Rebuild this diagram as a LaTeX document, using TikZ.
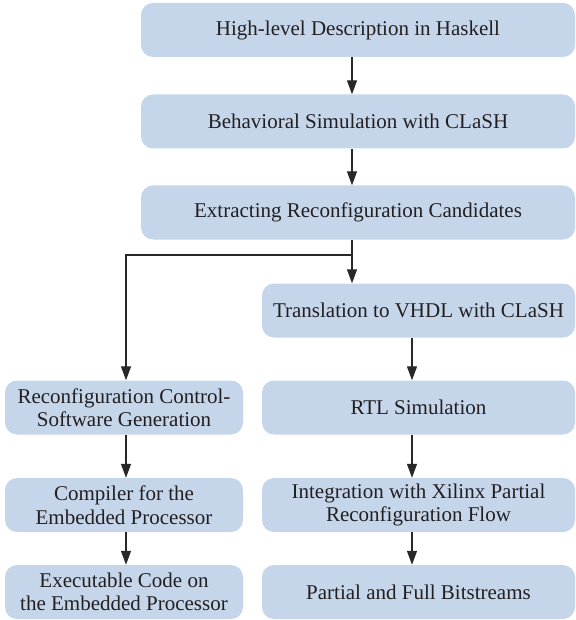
\documentclass[tikz,border=0pt]{standalone}
\usepackage{fontspec}
\setmainfont{Liberation Serif}
\usetikzlibrary{arrows.meta}
\definecolor{boxfill}{RGB}{197,214,235}
\definecolor{ink}{RGB}{35,31,32}
\definecolor{wire}{RGB}{40,40,40}
\begin{document}
\begin{tikzpicture}[x=1pt,y=-1pt,
  flowbox/.style={fill=boxfill, rounded corners=12pt, inner sep=0pt,
    minimum height=54pt, align=center, text=ink,
    font=\fontsize{21}{23.5}\selectfont},
  flow/.style={draw=wire, line width=1.2pt,
    -{Triangle[width=10pt,length=14pt]}},
  link/.style={draw=wire, line width=1.2pt}]
\useasboundingbox (0,0) rectangle (575,620);

% main column
\node[flowbox, minimum width=434pt] (hl)  at (358,30)    {High-level Description in Haskell};
\node[flowbox, minimum width=434pt] (beh) at (358,121.5) {Behavioral Simulation with CLaSH};
\node[flowbox, minimum width=434pt] (ext) at (358,212.5) {Extracting Reconfiguration Candidates};

% hardware branch
\node[flowbox, minimum width=313pt] (vhdl) at (418.5,310.5) {Translation to VHDL with CLaSH};
\node[flowbox, minimum width=313pt] (rtl)  at (418.5,407.5) {RTL Simulation};
\node[flowbox, minimum width=313pt] (xil)  at (418.5,505)   {Integration with Xilinx Partial\\Reconfiguration Flow};
\node[flowbox, minimum width=313pt] (bits) at (418.5,592)   {Partial and Full Bitstreams};

% software branch
\node[flowbox, minimum width=238pt] (ctrl) at (124,407.5) {Reconfiguration Control-\\Software Generation};
\node[flowbox, minimum width=238pt] (comp) at (124,505)   {Compiler for the\\Embedded Processor};
\node[flowbox, minimum width=238pt] (exe)  at (124,592)   {Executable Code on\\the Embedded Processor};

% guide lines for the connectors
\coordinate (spine) at (352,0);
\coordinate (hwx)   at (412,0);
\coordinate (swx)   at (126,0);
\coordinate (split) at (352,255);
\coordinate (turn)  at (126,255);

\draw[flow] (hl.south -| spine) -- (beh.north -| spine);
\draw[flow] (beh.south -| spine) -- (ext.north -| spine);
\draw[link] (ext.south -| spine) -- (split);
\draw[flow] (split) -- (vhdl.north -| spine);
\draw[flow] (split) -- (turn) -- (ctrl.north -| swx);

\draw[flow] (vhdl.south -| hwx) -- (rtl.north -| hwx);
\draw[flow] (rtl.south -| hwx) -- (xil.north -| hwx);
\draw[flow] (xil.south -| hwx) -- (bits.north -| hwx);

\draw[flow] (ctrl.south -| swx) -- (comp.north -| swx);
\draw[flow] (comp.south -| swx) -- (exe.north -| swx);
\end{tikzpicture}
\end{document}
